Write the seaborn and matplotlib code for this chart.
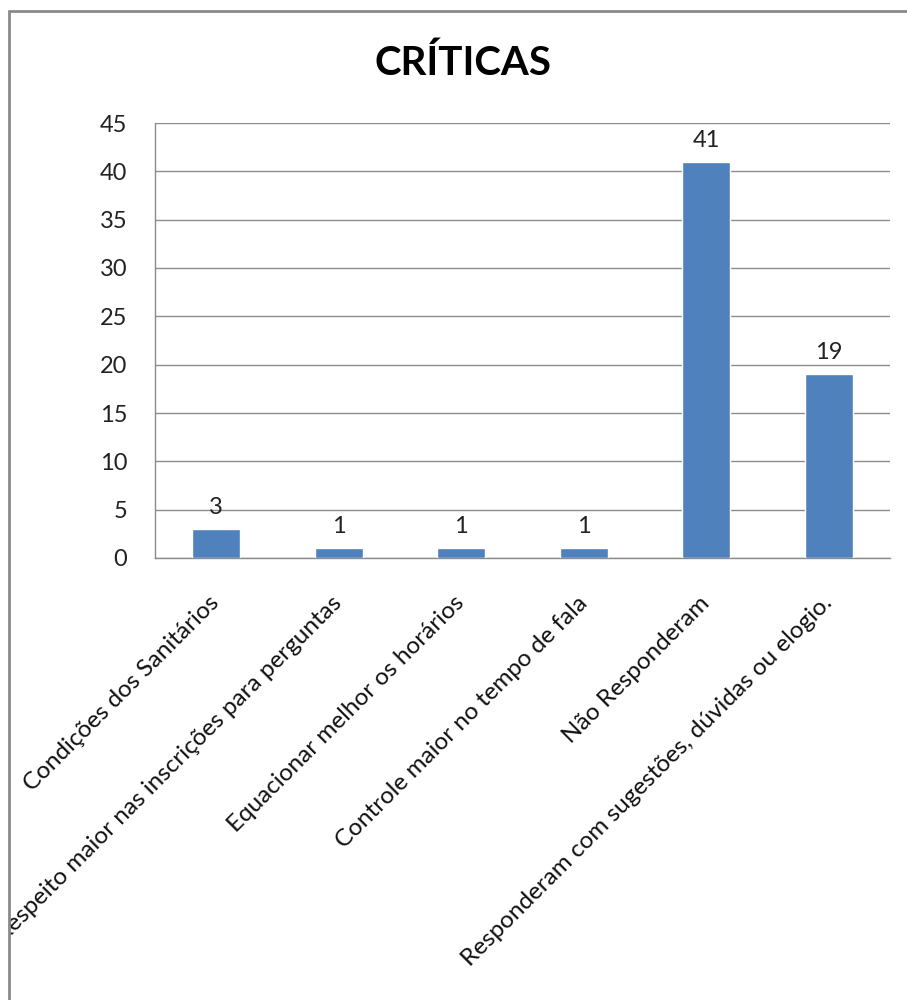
import matplotlib
matplotlib.use("Agg")
import matplotlib.pyplot as plt
from matplotlib.patches import Rectangle
from matplotlib.lines import Line2D
import seaborn as sns

categories = [
    "Condições dos Sanitários",
    "Respeito maior nas inscrições para perguntas",
    "Equacionar melhor os horários",
    "Controle maior no tempo de fala",
    "Não Responderam",
    "Responderam com sugestões, dúvidas ou elogio.",
]
values = [3, 1, 1, 1, 41, 19]
y_ticks = [0, 5, 10, 15, 20, 25, 30, 35, 40, 45]

sns.set_style("white")
plt.rcParams["font.family"] = ["Lato", "DejaVu Sans"]

W, H = 907, 1000
fig = plt.figure(figsize=(W / 100, H / 100), dpi=100)
fig.patch.set_facecolor("white")

left, right, top, bottom = 155, 890, 123, 558
ax = fig.add_axes([left / W, 1 - bottom / H, (right - left) / W, (bottom - top) / H])

bar_color = "#4F81BD"
sns.barplot(x=categories, y=values, color=bar_color, saturation=1, width=0.39, ax=ax, zorder=3)

ax.set_ylim(0, 45)
ax.set_yticks(y_ticks)
ax.set_xlim(-0.5, len(categories) - 0.5)
ax.yaxis.grid(True, color="#8c8c8c", linewidth=1)
ax.set_axisbelow(True)
for side in ["top", "right"]:
    ax.spines[side].set_visible(False)
for side in ["left", "bottom"]:
    ax.spines[side].set_color("#8c8c8c")
    ax.spines[side].set_linewidth(1)
ax.tick_params(axis="both", length=0)
ax.tick_params(axis="y", labelsize=17, pad=20, colors="#222222")
ax.set_xlabel("")
ax.set_ylabel("")

ax.set_xticks(range(len(categories)))
ax.set_xticklabels(categories, rotation=45, ha="right", va="center",
                   rotation_mode="anchor", fontsize=17.5, color="#111111")
ax.tick_params(axis="x", pad=30)

for i, v in enumerate(values):
    ax.annotate(str(v), (i, v), xytext=(0, 8), textcoords="offset points",
                ha="center", va="bottom", fontsize=17, color="#222222")

fig.text(463 / W, 1 - 63 / H, "CRÍTICAS", ha="center", va="center",
         fontsize=29, fontweight="bold", color="black")

# outer frame of the chart area; text beyond it is hidden
fx, fy = 8.5, 10.5
fig.patches.append(Rectangle((0, 0), fx / W, 1, transform=fig.transFigure,
                             facecolor="white", edgecolor="none", zorder=10))
fig.patches.append(Rectangle((0, 1 - fy / H), 1, fy / H, transform=fig.transFigure,
                             facecolor="white", edgecolor="none", zorder=10))
fig.lines.append(Line2D([fx / W, fx / W], [0, 1 - fy / H], transform=fig.transFigure,
                        color="#8a8a8a", linewidth=2, zorder=11))
fig.lines.append(Line2D([fx / W, 1], [1 - fy / H, 1 - fy / H], transform=fig.transFigure,
                        color="#8a8a8a", linewidth=2, zorder=11))

fig.savefig("out.png", dpi=100)
